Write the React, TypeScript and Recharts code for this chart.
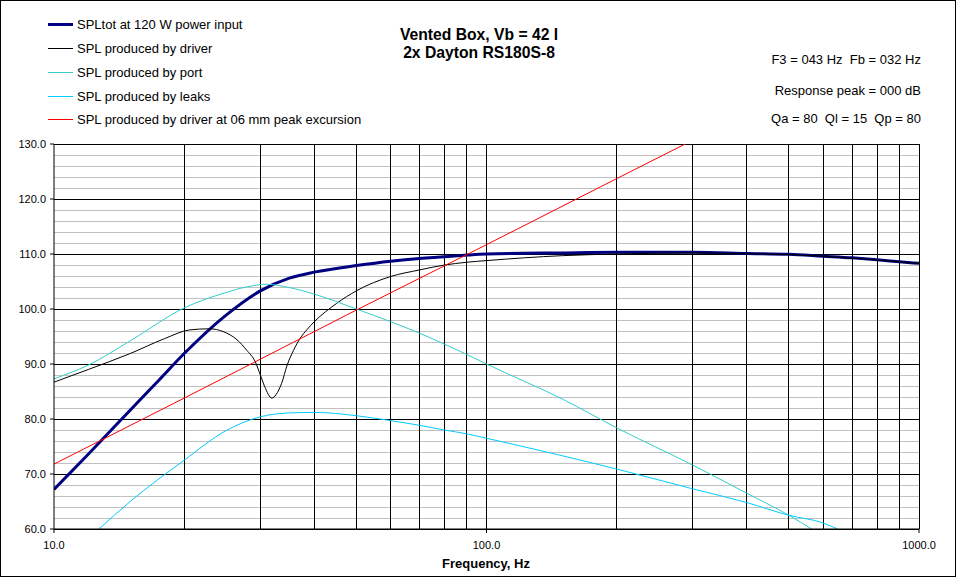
import React from "react";
import { LineChart, Line, XAxis, YAxis, ReferenceLine } from "recharts";

const FONT = '"Liberation Sans", Arial, Helvetica, sans-serif';

// axis ticks and grid values
const freqTicks = [10, 100, 1000];
const splTicks = [60, 70, 80, 90, 100, 110, 120, 130];
const minorSpl = [
  62, 64, 66, 68, 72, 74, 76, 78, 82, 84, 86, 88, 92, 94, 96, 98, 102, 104, 106, 108, 112, 114, 116, 118, 122,
  124, 126, 128,
];
const gridFreqs = [20, 30, 40, 50, 60, 70, 80, 90, 100, 200, 300, 400, 500, 600, 700, 800, 900, 1000];

// [frequency Hz, SPL dB]
const totalSpl = [
  [10, 67.2], [12, 73.6], [15, 81.6], [17.5, 87.1], [20, 91.9], [25, 98.9], [30, 103.3], [35, 105.6],
  [40, 106.7], [50, 107.9], [60, 108.7], [70, 109.2], [80, 109.5], [90, 109.8], [100, 110.0], [150, 110.2],
  [200, 110.3], [300, 110.3], [400, 110.1], [500, 109.95], [600, 109.6], [700, 109.3], [800, 108.95],
  [900, 108.6], [1000, 108.3],
];
const driverSpl = [
  [10, 86.7], [12, 89.0], [15, 91.9], [18, 94.6], [20.6, 96.2], [22.9, 96.4], [24.6, 95.9], [26.5, 94.4],
  [27.9, 92.5], [29.2, 90.4], [30, 88.0], [30.7, 85.9], [31.9, 83.8], [32.6, 84.4], [33.6, 86.5], [34.6, 89.8],
  [35.8, 92.5], [37.1, 94.7], [38.4, 96.2], [40, 97.7], [45, 101.0], [50, 103.3], [60, 105.9], [70, 107.1],
  [80, 108.0], [90, 108.5], [100, 108.8], [150, 109.7], [200, 110.0], [300, 110.2], [400, 110.05],
  [500, 109.9], [700, 109.25], [1000, 108.25],
];
const portSpl = [
  [10, 87.3], [12, 89.8], [15, 94.2], [20, 100.2], [25, 103.0], [28, 104.05], [31, 104.5], [35, 103.9],
  [40, 102.7], [50, 100.0], [60, 97.7], [70, 95.6], [80, 93.6], [90, 91.75], [100, 90.0], [150, 83.6],
  [200, 78.4], [300, 71.6], [400, 66.5], [500, 62.5], [565, 60.0],
];
const leaksSpl = [
  [12.7, 60.0], [15, 65.0], [20, 72.5], [25, 77.9], [30, 80.4], [35, 81.1], [40, 81.2], [50, 80.6],
  [60, 79.7], [70, 78.85], [80, 78.0], [90, 77.3], [100, 76.5], [200, 70.9], [300, 67.3], [400, 64.8],
  [500, 62.5], [600, 61.1], [648, 60.0],
];
const excursionSpl = [
  [10, 71.8], [20, 83.8], [50, 99.8], [100, 111.7], [200, 123.7], [288, 130.0],
];

const series = [
  { name: "SPLtot at 120 W power input", color: "#000080", width: 3, points: totalSpl, curve: "monotone" },
  { name: "SPL produced by driver", color: "#000000", width: 1, points: driverSpl, curve: "monotone" },
  { name: "SPL produced by port", color: "#33cccc", width: 1, points: portSpl, curve: "monotone" },
  { name: "SPL produced by leaks", color: "#00ccff", width: 1, points: leaksSpl, curve: "monotone" },
  { name: "SPL produced by driver at 06 mm peak excursion", color: "#ff0000", width: 1, points: excursionSpl, curve: "linear" },
];

const legendRows = [24, 48, 72, 96, 119];

function Txt({ x, y, anchor = "start", size = 13, bold = false, children }: any) {
  const tx = anchor === "middle" ? "-50%" : anchor === "end" ? "-100%" : "0";
  return (
    <div
      style={{
        position: "absolute",
        left: x,
        top: y,
        transform: `translate(${tx}, -50%)`,
        fontFamily: FONT,
        fontSize: size,
        fontWeight: bold ? "bold" : "normal",
        lineHeight: 1,
        whiteSpace: "pre",
        color: "#000",
      }}
    >
      {children}
    </div>
  );
}

export default function App() {
  return (
    <div style={{ position: "absolute", left: 0, top: 0, width: 956, height: 577, background: "#fff" }}>
      <LineChart width={956} height={577} margin={{ top: 144, right: 37, bottom: 0, left: 0 }}>
        <XAxis
          dataKey="f"
          type="number"
          scale="log"
          domain={[10, 1000]}
          allowDataOverflow
          ticks={freqTicks}
          tickFormatter={(v: number) => v.toFixed(1)}
          height={48}
          tickSize={4}
          tickMargin={8}
          stroke="#000"
          tick={{ fill: "#000", fontSize: 11, fontFamily: FONT }}
        />
        <YAxis
          type="number"
          domain={[60, 130]}
          allowDataOverflow
          ticks={splTicks}
          tickFormatter={(v: number) => v.toFixed(1)}
          width={54}
          tickSize={4}
          tickMargin={4}
          stroke="#000"
          tick={{ fill: "#000", fontSize: 11, fontFamily: FONT }}
        />
        {minorSpl.map((v) => (
          <ReferenceLine key={"m" + v} y={v} stroke="#c0c0c0" shapeRendering="crispEdges" zIndex={-100} />
        ))}
        {splTicks.map((v) => (
          <ReferenceLine key={"y" + v} y={v} stroke="#000" shapeRendering="crispEdges" zIndex={-90} />
        ))}
        {gridFreqs.map((f) => (
          <ReferenceLine key={"x" + f} x={f} stroke="#000" shapeRendering="crispEdges" zIndex={-90} />
        ))}
        {series.map((s) => (
          <Line
            key={s.name}
            data={s.points.map(([f, spl]) => ({ f, spl }))}
            dataKey="spl"
            type={s.curve as any}
            stroke={s.color}
            strokeWidth={s.width}
            dot={false}
            activeDot={false}
            isAnimationActive={false}
          />
        ))}
      </LineChart>

      <svg width={80} height={130} style={{ position: "absolute", left: 0, top: 0 }}>
        {series.map((s, i) => (
          <line
            key={s.name}
            x1={48}
            x2={73}
            y1={legendRows[i] + 0.5}
            y2={legendRows[i] + 0.5}
            stroke={s.color}
            strokeWidth={s.width}
          />
        ))}
      </svg>
      {series.map((s, i) => (
        <Txt key={s.name} x={77} y={legendRows[i] + 0.3}>
          {s.name}
        </Txt>
      ))}

      <Txt x={479} y={34.5} anchor="middle" size={15.7} bold>
        Vented Box, Vb = 42 l
      </Txt>
      <Txt x={479} y={53.2} anchor="middle" size={15.7} bold>
        2x Dayton RS180S-8
      </Txt>

      <Txt x={921} y={59.3} anchor="end">
        F3 = 043 Hz  Fb = 032 Hz
      </Txt>
      <Txt x={921} y={89.5} anchor="end">
        Response peak = 000 dB
      </Txt>
      <Txt x={921} y={118.3} anchor="end">
        Qa = 80  Ql = 15  Qp = 80
      </Txt>

      <Txt x={486} y={563} anchor="middle" size={13} bold>
        Frequency, Hz
      </Txt>

      <div
        style={{
          position: "absolute",
          left: 0,
          top: 0,
          width: 956,
          height: 577,
          boxSizing: "border-box",
          border: "1px solid #000",
          pointerEvents: "none",
        }}
      />
    </div>
  );
}
